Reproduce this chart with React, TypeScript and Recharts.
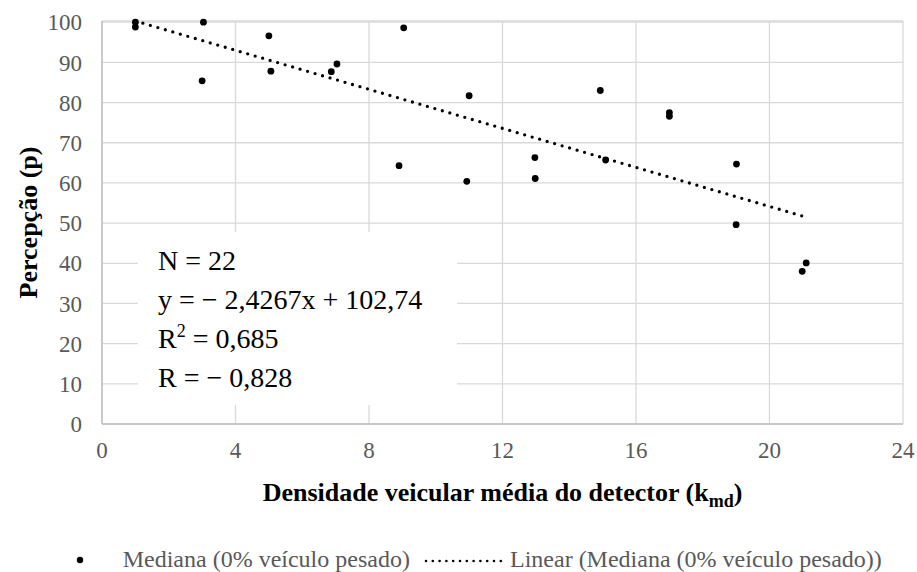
import React from 'react';
import { ScatterChart, Scatter, XAxis, YAxis, CartesianGrid } from 'recharts';

// valores
const densidade = [1.0, 1.0, 3.04, 3.0, 5.0, 5.06, 6.87, 7.04, 9.04, 8.9, 11.0, 10.93, 14.93, 17.0, 17.0, 12.97, 12.98, 15.09, 19.01, 19.0, 21.1, 20.98];
const percepcao = [100, 98.8, 100, 85.4, 96.6, 87.8, 87.7, 89.6, 98.6, 64.3, 81.7, 60.4, 83.0, 77.5, 76.6, 66.3, 61.1, 65.7, 64.7, 49.6, 40.1, 38.0];

const trendX = [1.0, 21.05];
const trendY = [100.3, 51.6];

const xTicks = [0, 4, 8, 12, 16, 20, 24];
const yTicks = [0, 10, 20, 30, 40, 50, 60, 70, 80, 90, 100];

const statLines = ['N = 22', 'y = − 2,4267x + 102,74', 'R2 = 0,685', 'R = − 0,828'];

const points = densidade.map((x, i) => ({ x, y: percepcao[i] }));
const trend = trendX.map((x, i) => ({ x, y: trendY[i] }));

const SERIF = "Liberation Serif, Tinos, Times New Roman, DejaVu Serif, serif";
const GRAY = '#595959';

const XTitle = (props: any) => {
  const { viewBox } = props;
  const cx = viewBox.x + viewBox.width / 2;
  return (
    <text x={cx} y={501} textAnchor="middle" style={{ fontFamily: SERIF }} fontWeight="bold" fontSize={26} fill="#000">
      Densidade veicular média do detector (k
      <tspan fontSize={18} dy={6}>md</tspan>
      <tspan dy={-6}>)</tspan>
    </text>
  );
};

const YTitle = (props: any) => {
  const { viewBox } = props;
  const cy = viewBox.y + viewBox.height / 2;
  const cx = 28;
  return (
    <text
      x={cx}
      y={cy}
      transform={`rotate(-90, ${cx}, ${cy})`}
      textAnchor="middle"
      dominantBaseline="central"
      style={{ fontFamily: SERIF }}
      fontWeight="bold"
      fontSize={26}
      fill="#000"
    >
      Percepção (p)
    </text>
  );
};

const Dot = (p: any) => <circle cx={p.cx} cy={p.cy} r={3.4} fill="#000" />;

export default function App() {
  return (
    <div style={{ position: 'relative', width: 917, height: 572, background: '#fff', fontFamily: SERIF }}>
      <style>{'body{margin:0} svg text{font-family:"Liberation Serif","Tinos","Times New Roman","DejaVu Serif",serif;}'}</style>
      <ScatterChart width={917} height={572} margin={{ top: 21, right: 14, left: 0, bottom: 88 }}>
        <CartesianGrid stroke="#d9d9d9" strokeWidth={1.3} />
        <XAxis
          type="number"
          dataKey="x"
          domain={[0, 24]}
          ticks={xTicks}
          height={60}
          tickLine={false}
          tickSize={0}
          tickMargin={18}
          axisLine={{ stroke: '#bfbfbf', strokeWidth: 1.5 }}
          tick={{ fontSize: 23, fill: GRAY }}
          label={<XTitle />}
        />
        <YAxis
          type="number"
          dataKey="y"
          domain={[0, 100]}
          ticks={yTicks}
          width={102}
          tickLine={false}
          tickSize={0}
          tickMargin={20}
          axisLine={{ stroke: '#bfbfbf', strokeWidth: 1.5 }}
          tick={{ fontSize: 23, fill: GRAY }}
          label={<YTitle />}
        />
        <Scatter data={points} shape={Dot} isAnimationActive={false} />
        <Scatter
          data={trend}
          shape={() => <g />}
          line={{ stroke: '#000', strokeWidth: 3.3, strokeDasharray: '0 7.8', strokeLinecap: 'round' }}
          isAnimationActive={false}
        />
      </ScatterChart>

      {/* caixa com as estatísticas */}
      <svg
        width={319}
        height={173}
        style={{ position: 'absolute', left: 138, top: 232, background: '#fff' }}
      >
        {statLines.map((t, i) => {
          const y = 38 + i * 38.9;
          if (t.startsWith('R2')) {
            return (
              <text key={i} x={20} y={y} fontSize={28} fill="#000">
                R<tspan fontSize={18} dy={-11}>2</tspan>
                <tspan dy={11}>{t.slice(2)}</tspan>
              </text>
            );
          }
          return (
            <text key={i} x={20} y={y} fontSize={28} fill="#000">
              {t}
            </text>
          );
        })}
      </svg>

      {/* legenda */}
      <svg width={917} height={32} style={{ position: 'absolute', left: 0, top: 540 }}>
        <circle cx={80} cy={20} r={3.2} fill="#000" />
        <text x={122.7} y={27} fontSize={24} fill={GRAY}>
          Mediana (0% veículo pesado)
        </text>
        <line
          x1={426}
          y1={21}
          x2={501}
          y2={21}
          stroke="#000"
          strokeWidth={2.6}
          strokeDasharray="0 6.8"
          strokeLinecap="round"
        />
        <text x={510} y={27} fontSize={24} fill={GRAY}>
          Linear (Mediana (0% veículo pesado))
        </text>
      </svg>
    </div>
  );
}
